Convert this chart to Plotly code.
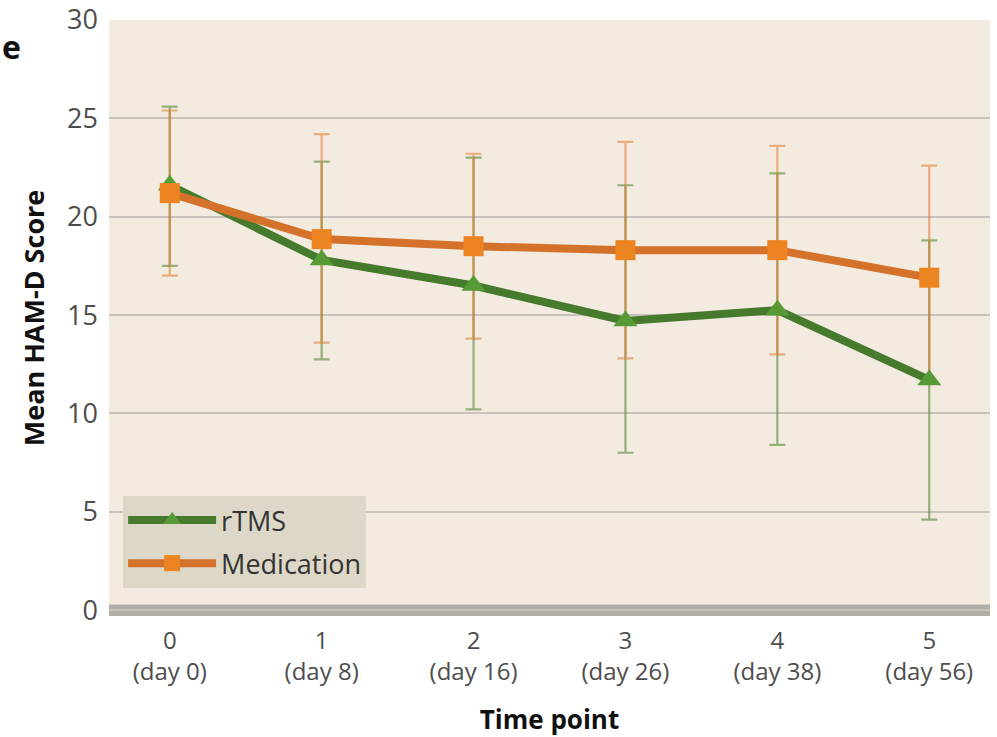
import plotly.graph_objects as go

# Time points and their study-day labels
time_points = [0, 1, 2, 3, 4, 5]
day_labels = ["(day 0)", "(day 8)", "(day 16)", "(day 26)", "(day 38)", "(day 56)"]

# Mean HAM-D scores with lower/upper error limits
rtms_mean = [21.6, 17.8, 16.5, 14.7, 15.25, 11.7]
rtms_upper = [25.6, 22.8, 23.0, 21.6, 22.2, 18.8]
rtms_lower = [17.5, 12.75, 10.2, 8.0, 8.4, 4.6]

med_mean = [21.2, 18.86, 18.5, 18.3, 18.3, 16.9]
med_upper = [25.4, 24.2, 23.2, 23.8, 23.6, 22.6]
med_lower = [17.0, 13.6, 13.8, 12.8, 13.0, 11.6]

y_ticks = [0, 5, 10, 15, 20, 25, 30]

GREEN_LINE = "#467a2c"
GREEN_MARK = "#579a36"
GREEN_ERR = "rgba(86,135,55,0.6)"
ORANGE_LINE = "#d4712a"
ORANGE_MARK = "#ec8422"
ORANGE_ERR = "rgba(224,120,40,0.55)"
FONT = "Open Sans"


def err_trace(mean, upper, lower, color):
    return go.Scatter(
        x=time_points, y=mean, mode="markers",
        marker=dict(size=1, color="rgba(0,0,0,0)"),
        error_y=dict(type="data", symmetric=False,
                     array=[u - m for u, m in zip(upper, mean)],
                     arrayminus=[m - l for m, l in zip(mean, lower)],
                     color=color, thickness=2.2, width=8),
        showlegend=False, hoverinfo="skip",
    )


fig = go.Figure()
fig.add_trace(err_trace(rtms_mean, rtms_upper, rtms_lower, GREEN_ERR))
fig.add_trace(err_trace(med_mean, med_upper, med_lower, ORANGE_ERR))

fig.add_trace(go.Scatter(
    x=time_points, y=rtms_mean, name="rTMS", mode="lines+markers",
    line=dict(color=GREEN_LINE, width=8),
    marker=dict(symbol="triangle-up", size=21, color=GREEN_MARK),
    legendgroup="a",
))
fig.add_trace(go.Scatter(
    x=time_points, y=med_mean, name="Medication", mode="lines+markers",
    line=dict(color=ORANGE_LINE, width=8),
    marker=dict(symbol="square", size=20, color=ORANGE_MARK),
    legendgroup="b",
))

# thick baseline band at zero
fig.add_shape(type="rect", xref="paper", yref="y", x0=0, x1=1, y0=-0.3, y1=0.28,
              fillcolor="#b3ada8", line=dict(width=0), layer="below")

# panel letter at the far left edge
fig.add_annotation(text="<b>e</b>", xref="paper", yref="paper", x=-0.1237, y=0.955,
                   xanchor="left", yanchor="middle", showarrow=False,
                   font=dict(family=FONT, size=32, color="#111"))

fig.update_layout(
    width=997, height=737,
    margin=dict(l=109, r=7, t=20, b=121),
    paper_bgcolor="white",
    plot_bgcolor="#f3ebe0",
    font=dict(family=FONT, color="#555"),
    showlegend=True,
    legend=dict(
        x=0.016, y=0.047, xanchor="left", yanchor="bottom",
        bgcolor="#dcd7c7", font=dict(family=FONT, size=27, color="#333"),
        itemwidth=88, traceorder="grouped", tracegroupgap=5,
        borderwidth=0,
    ),
    xaxis=dict(
        range=[-0.4, 5.4], tickmode="array", tickvals=time_points,
        ticktext=[f"{t}<br>{d}" for t, d in zip(time_points, day_labels)],
        tickfont=dict(family=FONT, size=24, color="#4d4d4d"),
        showgrid=False, zeroline=False, showline=False, ticks="",
        ticklabelstandoff=8, automargin=False,
        title=dict(text="<b>Time point</b>", font=dict(family=FONT, size=26, color="#111"),
                   standoff=26),
    ),
    yaxis=dict(
        range=[-0.3, 30], tickmode="array", tickvals=y_ticks,
        tickfont=dict(family=FONT, size=27, color="#4d4d4d"),
        showgrid=True, gridcolor="#c9c3bd", gridwidth=2,
        zeroline=False, showline=False, ticks="", ticklabelstandoff=10,
        automargin=False,
        title=dict(text="<b>Mean HAM-D Score</b>", font=dict(family=FONT, size=27, color="#111"),
                   standoff=14),
    ),
)

fig.write_html("out.html")
